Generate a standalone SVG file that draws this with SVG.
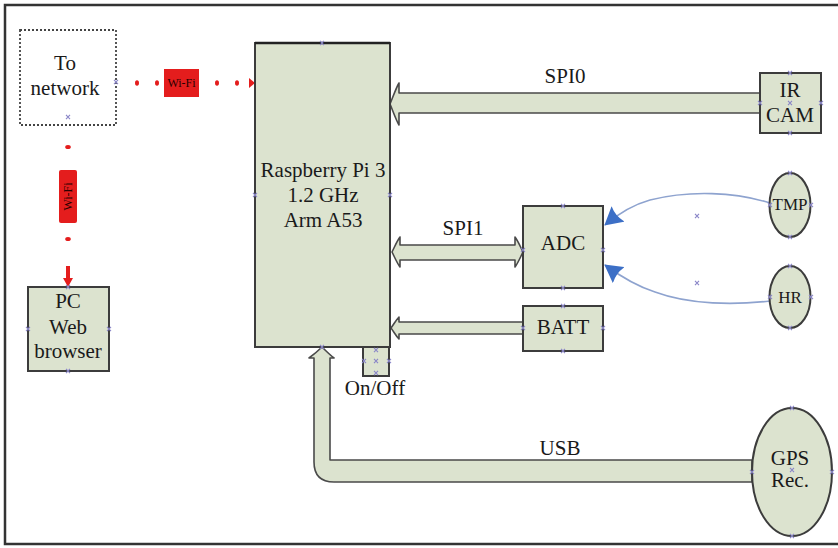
<svg xmlns="http://www.w3.org/2000/svg" width="838" height="548" viewBox="0 0 838 548">
<style>
.t{font-family:"Liberation Serif","Times New Roman",serif;font-size:21px;fill:#1a1a1a;text-anchor:middle}
.s{font-size:17px}
.w{font-family:"Liberation Serif","Times New Roman",serif;font-size:12px;fill:#2a0000;text-anchor:middle}
.box{fill:#dce3cf;stroke:#3c3c3c;stroke-width:2}
.bar{fill:#dce3cf;stroke:#4a4a4a;stroke-width:1.6;stroke-linejoin:round}
.red{fill:#e41d1d}
.wire{fill:none;stroke:#8ea3cf;stroke-width:1.6}
.mk{fill:none;stroke:#8a86c8;stroke-width:1.1}
</style>
<defs>
<marker id="blue" viewBox="0 0 10 10" refX="9.5" refY="5" markerWidth="18" markerHeight="20" markerUnits="userSpaceOnUse" orient="auto" preserveAspectRatio="none">
<path d="M0,0 L10,5 L0,10 Q2,5 0,0 Z" fill="#3c6fc6"/>
</marker>
<path id="x" d="M-2,-2.2L2,2.2M-2,2.2L2,-2.2" class="mk"/>
</defs>
<rect x="5" y="5" width="845" height="539" fill="#fff" stroke="#333" stroke-width="2.5"/>

<g id="connectors">
<g id="wifi-h">
<ellipse cx="112" cy="83" rx="3.5" ry="5" class="red"/>
<ellipse cx="137" cy="83" rx="2" ry="2.8" class="red"/>
<ellipse cx="157" cy="83" rx="2" ry="2.8" class="red"/>
<ellipse cx="217" cy="83" rx="2" ry="2.8" class="red"/>
<ellipse cx="237" cy="83" rx="2" ry="2.8" class="red"/>
<path d="M249,78 L255,83 L249,88 Z" class="red"/>
<rect x="164" y="69" width="35" height="28" class="red"/>
<text x="181.5" y="87" class="w">Wi-Fi</text>
</g>
<g id="wifi-v">
<path d="M64,113 L68,104 L72,113 Z" class="red"/>
<ellipse cx="68" cy="147" rx="2.8" ry="2" class="red"/>
<ellipse cx="68" cy="239" rx="2.8" ry="2" class="red"/>
<path d="M66,266 L70,266 L70,278 L73,278 L68,287 L63,278 L66,278 Z" class="red"/>
<rect x="59" y="170" width="18" height="53" rx="2" class="red"/>
<text x="68" y="196.5" class="w" transform="rotate(-90 68 196.5)" dy="4">Wi-Fi</text>
</g>
<path class="bar" d="M390,104 C393,97 396,88 399,83 L399,93 L760,93 L760,113 L399,113 L399,125 C396,120 393,111 390,104 Z"/>
<text x="565" y="83" class="t">SPI0</text>
<path class="bar" d="M392,252 C395,246 397,241 400,237 L400,245 L515,245 L515,237 C518,241 520,246 523,252 C520,258 518,263 515,267 L515,260 L400,260 L400,267 C397,263 395,258 392,252 Z"/>
<text x="463" y="235" class="t">SPI1</text>
<path class="bar" d="M391,328 C394,324 396,320 399,317 L399,322 L523,322 L523,334 L399,334 L399,339 C396,336 394,332 391,328 Z"/>
<path class="bar" d="M322,347 C326,351 330,355 334,358 L330,358 L330,460 L752,460 L752,482 L334,482 Q314,482 314,462 L314,358 L309,358 C313,355 318,351 322,347 Z"/>
<text x="560" y="455" class="t">USB</text>
<path class="wire" d="M770,203 C735,192 690,190 650,200 C632,205 618,214 605,225" marker-end="url(#blue)"/>
<path class="wire" d="M770,301 C735,305 690,305 655,292 C636,286 620,276 605,265" marker-end="url(#blue)"/>
</g>

<g id="to-network">
<rect x="20" y="30" width="96" height="95" fill="#fff" stroke="#444" stroke-width="1.8" stroke-dasharray="2 2"/>
<text x="65" y="70" class="t">To</text>
<text x="65" y="95" class="t">network</text>
</g>

<g id="pc">
<rect x="28" y="287" width="81" height="84" class="box"/>
<text x="68" y="308" class="t">PC</text>
<text x="68" y="334" class="t">Web</text>
<text x="68" y="358" class="t">browser</text>
</g>

<g id="raspberry">
<rect x="255" y="43" width="135" height="304" class="box"/>
<line x1="255" y1="43" x2="390" y2="43" stroke="#222" stroke-width="2.5"/>
<text x="323" y="177" class="t">Raspberry Pi 3</text>
<text x="323" y="202" class="t">1.2 GHz</text>
<text x="323" y="227" class="t">Arm A53</text>
</g>

<g id="onoff">
<rect x="363" y="347" width="26" height="29" class="box"/>
<text x="375" y="395" class="t">On/Off</text>
</g>

<g id="ircam">
<rect x="760" y="73" width="61" height="60" class="box"/>
<text x="790" y="97" class="t">IR</text>
<text x="790" y="122" class="t">CAM</text>
</g>

<g id="adc">
<rect x="523" y="206" width="80" height="82" class="box"/>
<text x="563" y="250" class="t">ADC</text>
</g>

<g id="batt">
<rect x="523" y="306" width="80" height="45" class="box"/>
<text x="563" y="334" class="t">BATT</text>
</g>

<g id="tmp">
<ellipse cx="790" cy="205" rx="20.5" ry="32" class="box"/>
<text x="790" y="210" class="t s">TMP</text>
</g>

<g id="hr">
<ellipse cx="790" cy="297" rx="20.5" ry="31" class="box"/>
<text x="790" y="303" class="t s">HR</text>
</g>

<g id="gps">
<ellipse cx="792" cy="472" rx="40" ry="64" class="box"/>
<text x="790" y="465" class="t">GPS</text>
<text x="790" y="487" class="t">Rec.</text>
</g>

<g id="points">
<use href="#x" x="322" y="43"/><use href="#x" x="255" y="195"/><use href="#x" x="390" y="195"/><use href="#x" x="322" y="347"/>
<use href="#x" x="376" y="350"/><use href="#x" x="376" y="361"/><use href="#x" x="376" y="373"/><use href="#x" x="364" y="361"/><use href="#x" x="389" y="361"/>
<use href="#x" x="563" y="206"/><use href="#x" x="523" y="250"/><use href="#x" x="603" y="250"/><use href="#x" x="563" y="288"/>
<use href="#x" x="563" y="306"/><use href="#x" x="523" y="328"/><use href="#x" x="603" y="328"/><use href="#x" x="563" y="351"/>
<use href="#x" x="790" y="73"/><use href="#x" x="760" y="103"/><use href="#x" x="790" y="103"/><use href="#x" x="821" y="103"/><use href="#x" x="790" y="133"/>
<use href="#x" x="790" y="173"/><use href="#x" x="770" y="205"/><use href="#x" x="811" y="205"/><use href="#x" x="790" y="237"/>
<use href="#x" x="790" y="266"/><use href="#x" x="770" y="297"/><use href="#x" x="811" y="297"/><use href="#x" x="790" y="328"/>
<use href="#x" x="792" y="408"/><use href="#x" x="752" y="472"/><use href="#x" x="792" y="470"/><use href="#x" x="832" y="472"/><use href="#x" x="792" y="536"/>
<use href="#x" x="68" y="371"/><use href="#x" x="28" y="329"/><use href="#x" x="109" y="329"/><use href="#x" x="68" y="287"/>
<use href="#x" x="116" y="82"/><use href="#x" x="68" y="117"/>
<use href="#x" x="697" y="216"/><use href="#x" x="697" y="283"/>
</g>
</svg>
